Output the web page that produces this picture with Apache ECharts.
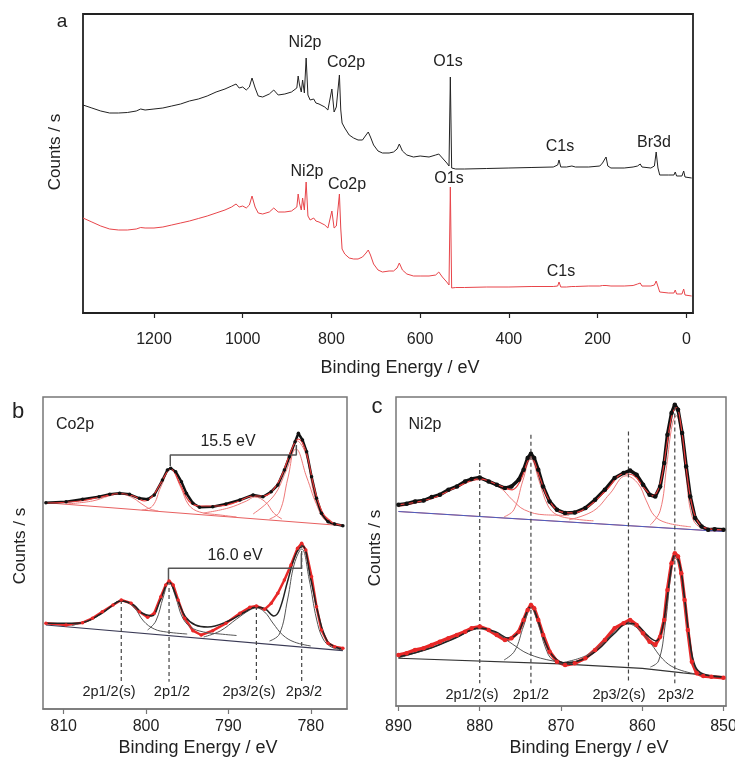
<!DOCTYPE html>
<html>
<head>
<meta charset="utf-8">
<script src="https://cdn.jsdelivr.net/npm/echarts@6/dist/echarts.min.js"></script>
<style>
  html, body { margin: 0; padding: 0; background: #fff; }
  #main { width: 735px; height: 758px; }
</style>
</head>
<body>
<div id="main"></div>
<script>
// ---- survey spectra (panel a), arbitrary counts ----
const surveyEV = [1360,1340,1320,1300,1280,1260,1240,1230,1220,1200,1180,1160,1140,1120,1100,1080,1060,1040,1025,1015,1008,1000,992,985,979,972,965,955,940,930,920,905,890,878,875,872,868,865,861,857,853,848,840,835,828,815,808,799,794,789,782,779,776,770,760,750,740,730,722,717,712,705,695,685,670,660,652,647,640,630,615,600,580,565,558,550,540,535,532,529,520,500,450,400,350,300,290,287,283,270,258,254,250,220,195,189,185,181,177,170,140,120,110,104,100,80,72,68,64,60,40,28,25,22,10,6,3,-12]
const surveyBlack = [208,205,202,200,200,200.5,202,204,203,204,205,207,209,212,214,217,221,224,227,229,225,226,223,226,235,225,217,216,219,223,218,219,221,225,237,228,221,233,220,255,218,213,214,210,209,206,203,224,201,206,238,203,190,185,178,175,173,173,178,181,176,168,162,160,160,161,164,169,162,158,156,157,156,158,159,155,150,147,236,145,144,144,144.5,145,145.5,146,148,153,146,146,147,149,146,146,147,150,148,156,147,145,145,146,147,149,146,145,147,161,145,138,138,138,141,137,137,142,136,135]
const surveyRed = [95,91,87,84,83,83,84,85.5,85,85,86,88,90,92,94.5,97,100,103,106,109,106,107,105,108,117,106,100,99,101,105,101,101,102,106,119,110,103,115,103,131,97,93,95,92,91,88,85,102,85,87,119,85,64,59,55,54,54,56,60,63,58,49,43,41,42,42,45,50,43,39,37,37,37,38,41,36,31,28,126,25,25.5,25.5,26,26,26.5,26.5,27,31,26,26,26.5,27,26.5,27,27,27.5,27,27.5,27,27,27,27.5,29,30,27,27,28,32,30,21,20,20,23,19,19,24,18,17]
const surveyTicks = [0, 200, 400, 600, 800, 1000, 1200]
const surveyLabels = [
  ['Ni2p', 305, 43], ['Co2p', 346, 63], ['O1s', 448, 62], ['C1s', 560, 147], ['Br3d', 654, 143],
  ['Ni2p', 307, 172], ['Co2p', 347, 185], ['O1s', 449, 179], ['C1s', 561, 272]
]

// ---- Co2p (panel b) ----
const coTicks = [780, 790, 800, 810]
const coTopData = [[812.15,206.3],[809.7,207.3],[807.7,209.7],[805.7,212.3],[804.4,214.7],[803.2,215.7],[802.0,214.7],[800.8,210.7],[799.8,209.7],[799.0,214],[798.0,229],[797.4,239],[797.0,240.7],[796.4,237.3],[795.7,227.3],[795.1,215.7],[794.3,205.7],[793.5,201.7],[791.9,202.3],[790.3,205],[788.6,209],[787.0,214],[785.8,212.3],[784.8,217.3],[784.0,224],[783.2,239],[782.6,252.3],[781.9,267.3],[781.5,275.7],[781.0,269],[780.5,257.3],[779.9,232.3],[779.3,210.7],[778.7,195.7],[777.9,187.3],[777.1,185],[776.1,183.3]]
const coTopFit = [[812,206],[808,208],[805.5,212],[803.2,215.5],[801.5,213],[800.2,208],[799.2,213],[798.2,226],[797,240],[795.8,224],[794.8,208],[793.5,203],[791,203],[789,207],[787,213],[785.8,213],[784.8,217],[783.6,232],[782.4,258],[781.5,270],[780.6,258],[779.6,222],[778.6,197],[777.5,187],[776.1,183.5]]
const coTopBg = [[812.15,206.3],[776.1,183.3]]
const coTopComps = [
  [[809.7,205],[806.5,208],[804.5,213],[803.2,215],[801.8,212],[800.5,205],[799.5,200],[798.5,198]],
  [[800.5,199],[799.2,203],[798.2,222],[797.0,240],[795.8,222],[794.8,204],[793.5,197],[791,194],[789,192]],
  [[793,196],[790,201],[787.8,208],[786.8,212],[785.5,207],[784.5,196],[783.5,190]],
  [[787,195],[784.5,213],[783,238],[781.8,260],[780.5,232],[779,200],[777.5,188]],
  [[785,190],[783.8,197],[782.8,230],[781.6,268],[780.6,255],[779.6,215],[778.6,192],[777.5,186],[776,183.5]]
]
const coBotData = [[812.15,85.7],[809.7,84],[807.7,86.3],[806.5,90.7],[805.3,97.3],[804.0,104],[803.0,109],[801.8,105.7],[800.8,97.3],[799.8,91.7],[799.0,95.7],[798.2,112.3],[797.6,124],[797.2,128],[796.7,124],[796.1,109],[795.3,90.7],[794.3,78.3],[793.3,74],[791.9,78.3],[790.3,85.7],[788.6,95.7],[787.4,101.7],[786.6,103],[785.6,99.7],[784.8,105.7],[784.0,115.7],[783.2,129],[782.4,144],[781.6,160.7],[781.1,165.7],[780.6,159],[779.9,132.3],[779.3,102.3],[778.7,79],[777.9,65.7],[777.1,62.3],[776.1,60.7]]
const coBotFit = [[812.15,85.7],[808,86],[805.5,95],[803.5,107],[803,108],[801.5,104],[800.5,96],[799.3,93],[798.3,108],[797.2,127],[796.2,110],[795.2,92],[794,84],[792.5,82],[790,88],[788,97],[786.6,102],[785.5,100],[784.5,93],[783.8,99],[782.8,128],[781.8,155],[781,163],[780,130],[779,92],[778,68],[777,62],[776.1,60]]
const coBotBg = [[812.15,84],[776.1,58.3]]
const coBotComps = [
  [[809,83.5],[806.5,90],[805,98],[803,108],[801.5,102],[800.3,88],[799,80],[797.5,77],[795,75]],
  [[799.8,79],[798.8,88],[797.9,112],[797.2,127],[796.4,112],[795.6,92],[794.6,82],[793,77],[791,75],[789,73.5]],
  [[793,72],[791,78],[789,90],[787.4,99],[786.6,101],[785.6,97],[784.6,86],[783.4,74],[782,67],[780,63]],
  [[785,68],[783.8,75],[782.8,110],[782,145],[781.1,160],[780.2,130],[779.3,90],[778.5,70],[777.5,62],[776.1,59]]
]
const coPeakEV = [803.0, 797.2, 786.6, 781.1]
const coPeakTop = [109, 128, 103, 165]
const coPeakNames = ['2p1/2(s)', '2p1/2', '2p3/2(s)', '2p3/2']
const coSplitTop = [[797.05,243],[797.05,254],[781.75,254],[781.75,264]]
const coSplitBot = [[797.27,129],[797.27,140.7],[781.14,140.7],[781.14,155.7]]

// ---- Ni2p (panel c) ----
const niTicks = [850, 860, 870, 880, 890]
const niTopData = [[890,201],[889,202],[887.95,204.3],[886.9,205.3],[885.9,208.7],[884.9,211],[883.85,216],[882.8,219.3],[881.8,224.3],[881.0,226.7],[880.0,228.3],[878.9,224.3],[877.9,221],[876.9,217.7],[876.1,219.3],[875.2,226],[874.6,236],[874.1,247.7],[873.7,252],[873.3,247.7],[872.8,236],[872.2,219.3],[871.4,204.3],[870.5,196],[869.5,192.7],[868.3,193.3],[867.0,197.7],[865.8,206],[864.6,216],[863.4,227.7],[862.3,232.7],[861.5,235.3],[860.7,231],[859.9,221],[859.1,211],[858.4,209.3],[857.8,219.3],[857.3,242.7],[856.9,271],[856.4,292.7],[856.0,301],[855.6,296],[855.1,272.7],[854.6,239.3],[854.1,209.3],[853.5,187.7],[852.7,179.3],[851.9,176],[851.1,176.7],[850.0,176]]
const niTopFit = [[890,201],[886,207],[883,218],[880,227],[877.5,220],[876,216],[875,225],[873.7,249],[872.6,228],[871.5,206],[870,194],[868.5,193],[866.5,200],[864.5,215],[862.2,232],[861,230],[859.8,218],[858.7,210],[857.8,222],[857,260],[856.3,292],[855.8,298],[855.2,278],[854.6,238],[854,205],[853.3,186],[852.3,178],[850,176]]
const niTopBg = [[890,194.3],[850,174.3]]
const niTopComps = [
  [[890,199],[886,207],[883,218],[880,226],[877.5,218],[876,206],[874.5,196],[872,191],[869,190.5]],
  [[877,189],[875.8,196],[874.7,225],[873.7,247],[872.7,225],[871.6,200],[870.5,191],[868.5,187],[866,185]],
  [[869,186],[866,195],[864,212],[862,230],[860.5,222],[859.5,205],[858.5,190],[857,183],[854,179]],
  [[859,181],[857.8,195],[857,240],[856.3,282],[855.8,290],[855.2,270],[854.6,228],[853.9,190],[853,179],[851,175]]
]
const niBotData = [[890,51],[889,52.7],[887.95,56],[886.9,57.7],[885.9,61],[884.9,64.3],[883.85,67.7],[882.8,71],[881.8,74.3],[881.0,77.7],[880.0,79.3],[878.9,76],[877.9,71],[876.9,66],[876.1,67.7],[875.2,74.3],[874.6,86],[874.1,96],[873.7,101],[873.3,97.7],[872.8,86],[872.2,71],[871.4,54.3],[870.5,44.3],[869.5,41],[868.3,42.7],[867.0,47.7],[865.8,56],[864.6,66],[863.4,77.7],[862.3,82.7],[861.5,86],[860.7,81],[859.9,72.7],[859.1,64.3],[858.4,61],[857.8,69.3],[857.3,86],[856.9,116],[856.4,142.7],[856.0,152.7],[855.6,149.3],[855.2,132.7],[854.8,106],[854.4,76],[853.9,44.3],[853.3,32.7],[852.5,30],[851.5,29.3],[850.0,28.3]]
const niBotFit = [[890,49],[886,58],[883,68],[880,78],[878,74],[876.5,68],[875.3,73],[874.5,88],[873.7,100],[872.8,85],[872,65],[871,50],[869.5,43],[867.5,46],[865.5,56],[863.5,72],[861.7,83],[860.5,80],[859.3,70],[858.3,65],[857.6,75],[857,105],[856.4,140],[856,151],[855.4,142],[854.8,108],[854.2,68],[853.5,40],[852.5,32],[850,29]]
const niBotBg = [[890,47.7],[870,42],[860,37.5],[855,33],[850,29]]
const niBotComps = [
  [[890,48],[886,58],[883,68],[880,77],[878,73],[876,62],[874,52],[871,45],[868,42]],
  [[877,46],[875.7,55],[874.6,80],[873.7,98],[872.8,82],[871.9,58],[871,46],[869,42]],
  [[870,43],[867,50],[865,62],[863,77],[861.7,82],[860.5,77],[859,63],[857.5,47],[856,38],[853.5,32]],
  [[859,39],[858,45],[857.2,80],[856.5,130],[856,148],[855.4,140],[854.8,105],[854.2,65],[853.5,38],[852.5,31]]
]
const niPeakEV = [880.0, 873.7, 861.7, 856.0]
const niPeakTop = [242.7, 271, 274.3, 299.3]
const niPeakNames = ['2p1/2(s)', '2p1/2', '2p3/2(s)', '2p3/2']

const FONT = 'Helvetica, Arial, "Liberation Sans", sans-serif'

function zip(xs, ys) { return xs.map((x, i) => [x, ys[i]]) }

function line(grid, data, color, width, extra) {
  return Object.assign({
    type: 'line', xAxisIndex: grid, yAxisIndex: grid, data: data,
    showSymbol: false, silent: true,
    lineStyle: { color: color, width: width }
  }, extra || {})
}

function dataLine(grid, data, color, width, size) {
  return line(grid, data, color, width, {
    showSymbol: true, symbol: 'circle', symbolSize: size,
    itemStyle: { color: color }
  })
}

function xAxis(grid, min, max, ticks, margin, border) {
  return {
    gridIndex: grid, type: 'value', inverse: true, min: min, max: max,
    axisLine: { show: true, lineStyle: { color: border, width: 1.5 } },
    axisTick: { show: true, inside: false, length: 5, customValues: ticks, lineStyle: { color: border, width: 1.2 } },
    axisLabel: { customValues: ticks, margin: margin, fontSize: 16, color: '#222', fontFamily: FONT,
      formatter: v => String(v) },
    splitLine: { show: false }
  }
}

function yAxis(grid, max) {
  return {
    gridIndex: grid, type: 'value', min: 0, max: max,
    axisLine: { show: false }, axisTick: { show: false }, axisLabel: { show: false },
    splitLine: { show: false }
  }
}

function text(str, x, y, size, rot) {
  return {
    type: 'text', silent: true, x: x, y: y, rotation: rot || 0,
    style: { text: str, x: 0, y: 0, fill: '#222', font: size + 'px ' + FONT,
      align: 'center', verticalAlign: 'middle', textAlign: 'center', textVerticalAlign: 'middle' }
  }
}

const series = []
// panel a
series.push(line(0, zip(surveyEV, surveyBlack), '#222', 1))
series.push(line(0, zip(surveyEV, surveyRed), '#e8454a', 1))

// panel b, top (black data, red fit)
series.push(line(1, coTopBg, '#e86060', 1))
coTopComps.forEach(c => series.push(line(1, c, '#ef7a7a', 1, { smooth: 0.4 })))
series.push(dataLine(1, coTopData, '#111', 2.5, 3.5))
series.push(line(1, coTopFit, '#e83a3a', 1.2, { smooth: 0.4 }))
// panel b, bottom (red data, black fit)
series.push(dataLine(1, coBotData, '#e82828', 2.5, 3.5))
series.push(line(1, coBotBg, '#3a3a55', 1.2))
coBotComps.forEach(c => series.push(line(1, c, '#555', 1, { smooth: 0.4 })))
series.push(line(1, coBotFit, '#222', 1.5, { smooth: 0.4 }))
coPeakEV.forEach((e, i) => series.push(line(1, [[e, coPeakTop[i]], [e, 27.3]], '#444', 1.2, { lineStyle: { color: '#444', width: 1.2, type: [4, 3] } })))
series.push(line(1, coSplitTop, '#555', 1.5))
series.push(line(1, coSplitBot, '#555', 1.5))

// panel c, top
series.push(line(2, niTopBg, '#e86060', 1))
niTopComps.forEach(c => series.push(line(2, c, '#ef7a7a', 1, { smooth: 0.4 })))
series.push(dataLine(2, niTopData, '#111', 3.5, 4.5))
series.push(line(2, niTopFit, '#e83a3a', 1.2, { smooth: 0.4 }))
series.push(line(2, niTopBg, '#4a5fc1', 1))
// panel c, bottom
series.push(dataLine(2, niBotData, '#e82828', 3.5, 4.5))
series.push(line(2, niBotBg, '#333', 1.2))
niBotComps.forEach(c => series.push(line(2, c, '#555', 1, { smooth: 0.4 })))
series.push(line(2, niBotFit, '#222', 1.5, { smooth: 0.4 }))
niPeakEV.forEach((e, i) => series.push(line(2, [[e, niPeakTop[i]], [e, 22.7]], '#444', 1.2, { lineStyle: { color: '#444', width: 1.2, type: [4, 3] } })))

const graphics = []
graphics.push(text('a', 62, 22, 19))
graphics.push(text('b', 18, 412, 22))
graphics.push(text('c', 377, 407, 22))
// axis titles
graphics.push(text('Binding Energy / eV', 400, 368, 18))
graphics.push(text('Binding Energy / eV', 198, 748, 18))
graphics.push(text('Binding Energy / eV', 589, 748, 18))
graphics.push(text('Counts / s', 55, 152, 17, Math.PI / 2))
graphics.push(text('Counts / s', 20, 546, 17, Math.PI / 2))
graphics.push(text('Counts / s', 375, 548, 17, Math.PI / 2))
// peak labels
surveyLabels.forEach(l => graphics.push(text(l[0], l[1], l[2], 16)))
graphics.push(text('Co2p', 75, 425, 16))
graphics.push(text('Ni2p', 425, 425, 16))
graphics.push(text('15.5 eV', 228, 442, 16))
graphics.push(text('16.0 eV', 235, 556, 16))
const coLabelX = [109, 172, 249, 304]
const niLabelX = [472, 531, 619, 676]
coPeakNames.forEach((n, i) => graphics.push(text(n, coLabelX[i], 692, 14.5)))
niPeakNames.forEach((n, i) => graphics.push(text(n, niLabelX[i], 695, 14.5)))

const chart = echarts.init(document.getElementById('main'), null, { renderer: 'canvas' })
chart.setOption({
  animation: false,
  backgroundColor: '#fff',
  grid: [
    { left: 83, top: 14, width: 610, height: 299, show: true, borderColor: '#222', borderWidth: 1.8, outerBoundsMode: 'none', containLabel: false },
    { left: 43, top: 397, width: 304, height: 312, show: true, borderColor: '#777', borderWidth: 1.5, outerBoundsMode: 'none', containLabel: false },
    { left: 396, top: 397, width: 330, height: 309, show: true, borderColor: '#777', borderWidth: 1.5, outerBoundsMode: 'none', containLabel: false }
  ],
  xAxis: [
    xAxis(0, -15, 1360, surveyTicks, 19, '#222'),
    xAxis(1, 775.6, 812.5, coTicks, 10, '#777'),
    xAxis(2, 849.7, 890.3, niTicks, 13, '#777')
  ],
  yAxis: [yAxis(0, 299), yAxis(1, 312), yAxis(2, 308.7)],
  series: series,
  graphic: graphics
})
</script>
</body>
</html>
